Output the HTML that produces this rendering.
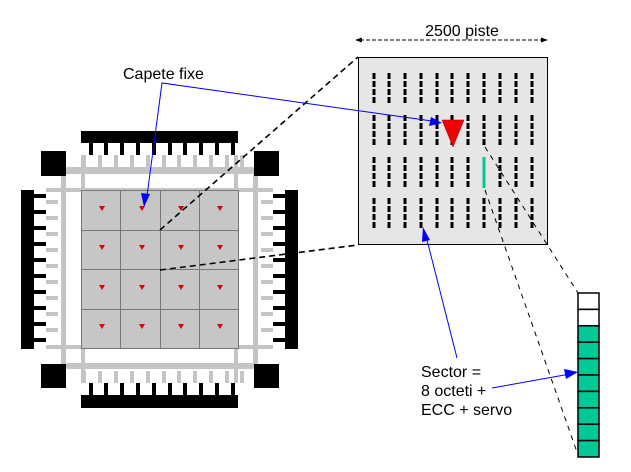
<!DOCTYPE html>
<html><head><meta charset="utf-8"><style>
html,body{margin:0;padding:0;background:#fff;width:631px;height:472px;overflow:hidden}
svg{display:block}
text{font-family:"Liberation Sans",sans-serif;fill:#000}
</style></head><body>
<svg width="631" height="472" viewBox="0 0 631 472" xmlns="http://www.w3.org/2000/svg">
<defs>
<g id="pinsH">
 <rect x="89" y="0" width="4" height="12"/><rect x="104" y="0" width="4" height="12"/><rect x="120" y="0" width="4" height="12"/><rect x="136" y="0" width="4" height="12"/><rect x="152" y="0" width="4" height="12"/><rect x="168" y="0" width="4" height="12"/><rect x="183" y="0" width="4" height="12"/><rect x="199" y="0" width="4" height="12"/><rect x="215" y="0" width="4" height="12"/><rect x="231" y="0" width="4" height="12"/>
</g>
<g id="gpinsH">
 <rect x="82" y="0" width="4" height="12"/><rect x="98" y="0" width="4" height="12"/><rect x="114" y="0" width="4" height="12"/><rect x="130" y="0" width="4" height="12"/><rect x="146" y="0" width="4" height="12"/><rect x="162" y="0" width="4" height="12"/><rect x="177" y="0" width="4" height="12"/><rect x="193" y="0" width="4" height="12"/><rect x="209" y="0" width="4" height="12"/><rect x="225" y="0" width="4" height="12"/><rect x="240" y="0" width="4" height="12"/>
</g>
<g id="tri"><polygon points="-3,-2 3,-2 0,3" fill="#e00000"/></g>
<g id="colrows">
  <line x1="0" y1="73" x2="0" y2="105"/><line x1="0" y1="115" x2="0" y2="147"/><line x1="0" y1="157" x2="0" y2="188"/><line x1="0" y1="198" x2="0" y2="230"/>
</g>
</defs>

<!-- gray frame -->
<g fill="#c4c4c4">
 <rect x="61" y="167" width="197" height="7"/>
 <rect x="61" y="363" width="197" height="6"/>
 <rect x="61" y="167" width="5" height="202"/>
 <rect x="253" y="167" width="5" height="202"/>
 <rect x="81" y="155" width="4" height="228"/>
 <rect x="234" y="155" width="4" height="228"/>
 <rect x="46" y="188" width="227" height="4"/>
 <rect x="46" y="345" width="227" height="4"/>
 <use href="#gpinsH" y="155"/>
 <use href="#gpinsH" y="371"/>
</g>
<g fill="#c4c4c4">
 <rect x="46" y="200" width="12" height="4"/><rect x="46" y="216" width="12" height="4"/><rect x="46" y="232" width="12" height="4"/><rect x="46" y="248" width="12" height="4"/><rect x="46" y="264" width="12" height="4"/><rect x="46" y="280" width="12" height="4"/><rect x="46" y="296" width="12" height="4"/><rect x="46" y="312" width="12" height="4"/><rect x="46" y="328" width="12" height="4"/>
 <rect x="261" y="200" width="12" height="4"/><rect x="261" y="216" width="12" height="4"/><rect x="261" y="232" width="12" height="4"/><rect x="261" y="248" width="12" height="4"/><rect x="261" y="264" width="12" height="4"/><rect x="261" y="280" width="12" height="4"/><rect x="261" y="296" width="12" height="4"/><rect x="261" y="312" width="12" height="4"/><rect x="261" y="328" width="12" height="4"/>
</g>
<!-- black parts -->
<g fill="#000">
 <rect x="81" y="131" width="157" height="12"/>
 <rect x="81" y="395" width="157" height="13"/>
 <rect x="21" y="190" width="13" height="159"/>
 <rect x="285" y="190" width="13" height="159"/>
 <use href="#pinsH" y="143"/>
 <use href="#pinsH" y="383"/>
 <rect x="41" y="151" width="25" height="25"/><rect x="254" y="151" width="25" height="25"/>
 <rect x="41" y="364" width="25" height="24"/><rect x="254" y="364" width="25" height="24"/>
 <rect x="34" y="194" width="12" height="4"/><rect x="34" y="210" width="12" height="4"/><rect x="34" y="226" width="12" height="4"/><rect x="34" y="242" width="12" height="4"/><rect x="34" y="258" width="12" height="4"/><rect x="34" y="274" width="12" height="4"/><rect x="34" y="290" width="12" height="4"/><rect x="34" y="306" width="12" height="4"/><rect x="34" y="322" width="12" height="4"/><rect x="34" y="338" width="12" height="4"/>
 <rect x="273" y="194" width="12" height="4"/><rect x="273" y="210" width="12" height="4"/><rect x="273" y="226" width="12" height="4"/><rect x="273" y="242" width="12" height="4"/><rect x="273" y="258" width="12" height="4"/><rect x="273" y="274" width="12" height="4"/><rect x="273" y="290" width="12" height="4"/><rect x="273" y="306" width="12" height="4"/><rect x="273" y="322" width="12" height="4"/><rect x="273" y="338" width="12" height="4"/>
</g>
<!-- grid -->
<rect x="81.5" y="190.5" width="157" height="158" fill="#c6c6c6" stroke="#777" stroke-width="1"/>
<g stroke="#777" stroke-width="1">
 <line x1="120.5" y1="190" x2="120.5" y2="349"/><line x1="160.5" y1="190" x2="160.5" y2="349"/><line x1="199.5" y1="190" x2="199.5" y2="349"/>
 <line x1="81" y1="230.5" x2="238" y2="230.5"/><line x1="81" y1="269.5" x2="238" y2="269.5"/><line x1="81" y1="309.5" x2="238" y2="309.5"/>
</g>
<g>
 <use href="#tri" x="102" y="208"/><use href="#tri" x="142" y="208"/><use href="#tri" x="181" y="208"/><use href="#tri" x="220" y="208"/>
 <use href="#tri" x="102" y="247"/><use href="#tri" x="142" y="247"/><use href="#tri" x="181" y="247"/><use href="#tri" x="220" y="247"/>
 <use href="#tri" x="102" y="287"/><use href="#tri" x="142" y="287"/><use href="#tri" x="181" y="287"/><use href="#tri" x="220" y="287"/>
 <use href="#tri" x="102" y="326"/><use href="#tri" x="142" y="326"/><use href="#tri" x="181" y="326"/><use href="#tri" x="220" y="326"/>
</g>

<!-- magnified box -->
<rect x="358.5" y="57.5" width="189" height="187" fill="#e6e6e6" stroke="#000" stroke-width="1"/>
<g stroke="#000" stroke-width="3" stroke-dasharray="6 2">
 <use href="#colrows" x="374"/><use href="#colrows" x="389"/><use href="#colrows" x="405"/><use href="#colrows" x="421"/><use href="#colrows" x="437"/><use href="#colrows" x="452"/><use href="#colrows" x="468"/><use href="#colrows" x="484"/><use href="#colrows" x="500"/><use href="#colrows" x="516"/><use href="#colrows" x="532"/>
</g>
<line x1="484" y1="157" x2="484" y2="188" stroke="#00c896" stroke-width="3"/>
<polygon points="442,120 464,120 453,147" fill="#f00000" stroke="#900" stroke-width="0.5"/>

<!-- dimension -->
<line x1="360" y1="40" x2="544" y2="40" stroke="#000" stroke-width="1" stroke-dasharray="4 2"/>
<polygon points="355,40 362,37.5 362,42.5" fill="#000"/>
<polygon points="548,40 541,37.5 541,42.5" fill="#000"/>
<text x="462" y="36" font-size="16" text-anchor="middle">2500 piste</text>

<!-- dashed zoom lines -->
<g stroke="#000" stroke-width="1.6" stroke-dasharray="6 4" fill="none">
 <line x1="160" y1="230" x2="358" y2="57"/>
 <line x1="160" y1="270" x2="358" y2="245"/>
</g>
<g stroke="#000" stroke-width="1" stroke-dasharray="5 5" fill="none">
 <line x1="485" y1="147" x2="578" y2="293"/>
 <line x1="485" y1="190" x2="578" y2="455"/>
</g>

<!-- sector column -->
<g stroke="#000" stroke-width="1.5">
 <rect x="578" y="293" width="21" height="16.4" fill="#fff"/>
 <rect x="578" y="309.4" width="21" height="16.4" fill="#fff"/>
 <rect x="578" y="325.8" width="21" height="16.4" fill="#00c896"/>
 <rect x="578" y="342.2" width="21" height="16.4" fill="#00c896"/>
 <rect x="578" y="358.6" width="21" height="16.4" fill="#00c896"/>
 <rect x="578" y="375" width="21" height="16.4" fill="#00c896"/>
 <rect x="578" y="391.4" width="21" height="16.4" fill="#00c896"/>
 <rect x="578" y="407.8" width="21" height="16.4" fill="#00c896"/>
 <rect x="578" y="424.2" width="21" height="16.4" fill="#00c896"/>
 <rect x="578" y="440.6" width="21" height="16.4" fill="#00c896"/>
</g>

<!-- blue arrows -->
<g stroke="#0000ff" stroke-width="1" fill="none">
 <polyline points="147,196 162,83 432,121"/>
 <line x1="457" y1="358" x2="426" y2="236"/>
 <line x1="492" y1="388" x2="570" y2="374"/>
</g>
<g fill="#0000ff">
 <polygon points="144,207 141,193 150,194"/>
 <polygon points="442,123 429,126 431,117"/>
 <polygon points="423,227 430,240 422,242"/>
 <polygon points="578,372 566,379 564,369"/>
</g>

<text x="123" y="79" font-size="16">Capete fixe</text>
<text x="421" y="377" font-size="16">Sector =</text>
<text x="421" y="396" font-size="16">8 octeti +</text>
<text x="421" y="415" font-size="16">ECC + servo</text>
</svg>
</body></html>
